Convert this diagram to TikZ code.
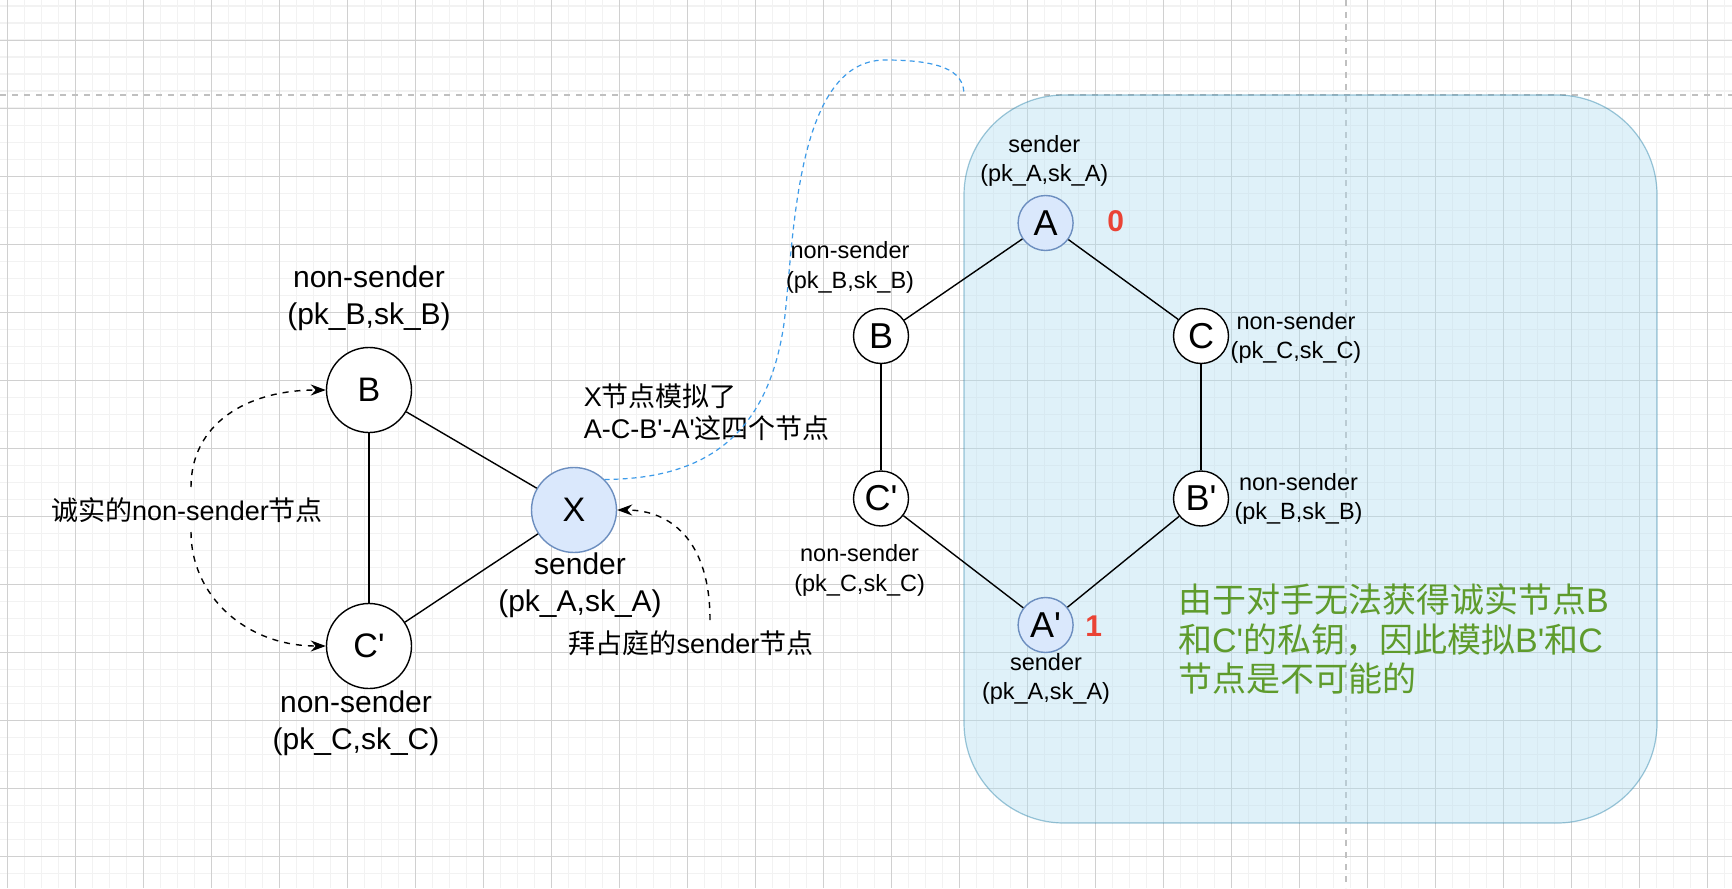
\documentclass[tikz,border=0pt]{standalone}
\usepackage{fontspec}
\setmainfont{Liberation Sans}
\newfontfamily\lsans{Liberation Sans}
\newfontfamily\cjk{Noto Sans CJK SC}
\usetikzlibrary{arrows.meta}
\definecolor{gridminor}{HTML}{F2F2F2}
\definecolor{gridmajor}{HTML}{D0D0D0}
\definecolor{pagebrk}{HTML}{C0C0C0}
\definecolor{nodefill}{HTML}{DAE8FC}
\definecolor{nodedraw}{HTML}{6C8EBF}
\definecolor{boxfill}{HTML}{B1DDF0}
\definecolor{boxdraw}{HTML}{10739E}
\definecolor{curveblue}{HTML}{3D9BE9}
\definecolor{numred}{HTML}{EA4335}
\definecolor{txtgreen}{HTML}{5E9B2C}
\begin{document}
\begin{tikzpicture}[x=0.5pt,y=-0.5pt,
  bignode/.style={circle, draw=black, fill=white, line width=0.7pt, minimum size=42.5pt, inner sep=0pt, font=\lsans\fontsize{17}{20}\selectfont},
  smallnode/.style={circle, draw=black, fill=white, line width=0.7pt, minimum size=27.5pt, inner sep=0pt, font=\lsans\fontsize{18}{21}\selectfont},
  sendernode/.style={fill=nodefill, draw=nodedraw},
  biglabel/.style={align=center, inner sep=0pt, font=\lsans\fontsize{15}{18.5}\selectfont},
  smalllabel/.style={align=center, inner sep=0pt, font=\lsans\fontsize{11.75}{14.75}\selectfont},
  note/.style={inner sep=0pt, font=\lsans\fontsize{13.5}{15.9}\selectfont},
  num/.style={inner sep=0pt, text=numred, font=\lsans\bfseries\fontsize{15}{18}\selectfont},
  greentext/.style={inner sep=0pt, text=txtgreen, align=left, anchor=west, font=\lsans\fontsize{17}{19.85}\selectfont},
  container/.style={rectangle, inner sep=0pt, outer sep=0pt, fill=boxfill, fill opacity=0.4, draw=boxdraw, draw opacity=0.4, line width=0.6pt, rounded corners=50pt, minimum width=346.5pt, minimum height=364pt},
  edgeline/.style={line width=0.7pt, draw=black},
  dasharrow/.style={line width=0.7pt, dash pattern=on 3pt off 3pt, -{Stealth[length=7.5pt,width=5.5pt]}},
  bluecurve/.style={curveblue, line width=0.6pt, dash pattern=on 2.5pt off 2pt},
  minorgrid/.style={gridminor, line width=0.8pt},
  majorgrid/.style={gridmajor, line width=0.4pt},
  pagebreak/.style={pagebrk, line width=0.65pt, dash pattern=on 3pt off 3pt}
]
\useasboundingbox (0,0) rectangle (1732,888);
\fill[white] (0,0) rectangle (1732,888);
% grid
\foreach \k in {0,...,101} { \draw[minorgrid] ({7.3+17*\k},0) -- ({7.3+17*\k},888); }
\foreach \k in {0,...,52} { \draw[minorgrid] (0,{6.3+17*\k}) -- (1732,{6.3+17*\k}); }
\foreach \k in {0,...,25} { \draw[majorgrid] ({7.3+68*\k},0) -- ({7.3+68*\k},888); }
\foreach \k in {0,...,12} { \draw[majorgrid] (0,{40.3+68*\k}) -- (1732,{40.3+68*\k}); }
% page breaks
\draw[pagebreak] (0,95) -- (1732,95);
\draw[pagebreak] (1346,0) -- (1346,888);
% container
\node[container] (box) at (1310.5,459) {};

% left triangle
\node[bignode] (B) at (369,390) {B};
\node[bignode] (Cp) at (369,646) {C'};
\node[bignode, sendernode] (X) at (574,510) {X};
\draw[edgeline] (B) -- (Cp);
\draw[edgeline] (B) -- (X);
\draw[edgeline] (Cp) -- (X);

\node[biglabel] (lB) at (369,298.5) {non-sender\\(pk\_B,sk\_B)};
\node[biglabel] (lX) at (580,585) {sender\\(pk\_A,sk\_A)};
\node[biglabel] (lC) at (356,723.3) {non-sender\\(pk\_C,sk\_C)};

\node[note] (honest) at (187,510) {{\cjk 诚实的}non-sender{\cjk 节点}};
\node[note, align=left, anchor=west] (sim) at (583.5,412.3) {X{\cjk 节点模拟了}\\A-C-B'-A'{\cjk 这四个节点}};
\node[note] (byz) at (691,643) {{\cjk 拜占庭的}sender{\cjk 节点}};

\coordinate (h1) at (191,487);
\coordinate (h2) at (191,532);
\coordinate (bz) at (710,620);
\draw[dasharrow] (h1) .. controls (191,425) and (245,390) .. (B.west);
\draw[dasharrow] (h2) .. controls (191,595) and (245,646) .. (Cp.west);
\draw[dasharrow] (bz) .. controls (710,540) and (670,510) .. (X.east);

\draw[bluecurve] (X.45) .. controls (700,479) and (765,440) .. (783,330) .. controls (794,262) and (790,60) .. (885,60) .. controls (950,60) and (964,75) .. (box.north west);

% hexagon
\node[smallnode, sendernode] (hA) at (1045.6,223) {A};
\node[smallnode] (hB) at (881,336) {B};
\node[smallnode] (hC) at (1201,336) {C};
\node[smallnode] (hCp) at (881,498.5) {C'};
\node[smallnode] (hBp) at (1201,498.5) {B'};
\node[smallnode, sendernode] (hAp) at (1045.6,625) {A'};
\draw[edgeline] (hA) -- (hB);
\draw[edgeline] (hA) -- (hC);
\draw[edgeline] (hB) -- (hCp);
\draw[edgeline] (hC) -- (hBp);
\draw[edgeline] (hCp) -- (hAp);
\draw[edgeline] (hBp) -- (hAp);

\node[smalllabel] (lhA) at (1044.3,160.7) {sender\\(pk\_A,sk\_A)};
\node[smalllabel] (lhB) at (850,267.5) {non-sender\\(pk\_B,sk\_B)};
\node[smalllabel] (lhC) at (1296,337.7) {non-sender\\(pk\_C,sk\_C)};
\node[smalllabel] (lhBp) at (1298.5,499) {non-sender\\(pk\_B,sk\_B)};
\node[smalllabel] (lhCp) at (859.6,570.5) {non-sender\\(pk\_C,sk\_C)};
\node[smalllabel] (lhAp) at (1046,679) {sender\\(pk\_A,sk\_A)};

\node[num] (n0) at (1115.7,221) {0};
\node[num] (n1) at (1093.8,626.3) {1};

\node[greentext] (gtext) at (1177.7,639) {{\cjk 由于对手无法获得诚实节点}B\\{\cjk 和}C'{\cjk 的私钥，因此模拟}B'{\cjk 和}C\\{\cjk 节点是不可能的}};
\end{tikzpicture}
\end{document}
